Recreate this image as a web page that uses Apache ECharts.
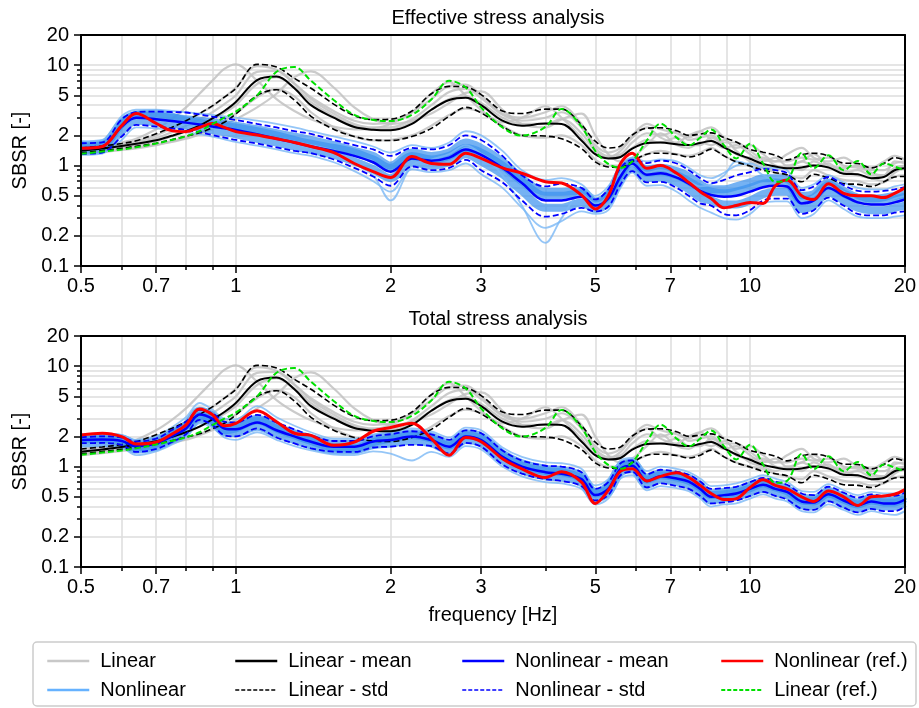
<!DOCTYPE html>
<html>
<head>
<meta charset="UTF-8">
<script src="https://cdn.jsdelivr.net/npm/echarts@6/dist/echarts.min.js"></script>
<style>
  * { margin: 0; padding: 0; }
  #main { width: 919px; height: 708px; background: #fff; }
</style>
</head>
<body>
<div id="main"></div>
<script>
// frequency grid [Hz]
var freq = [0.5,0.55,0.6,0.64,0.7,0.75,0.8,0.85,0.9,0.95,
  1.0,1.1,1.2,1.3,1.4,1.55,1.7,1.85,
  2.0,2.2,2.4,2.6,2.8,
  3.0,3.3,3.6,4.0,4.3,4.7,
  5.0,5.3,5.6,5.9,6.3,6.7,
  7.2,7.6,8.0,8.4,8.9,9.4,
  10,10.6,11.2,11.8,
  12.6,13.3,14.2,15.2,16.2,17.2,18.2,19.1,20];

// linear analyses (same in both panels)
var linMean = [1.41,1.48,1.57,1.65,1.79,1.98,2.2,2.5,2.95,3.5,
  4.3,7.1,7.7,5.9,4.0,3.0,2.42,2.28,
  2.25,2.6,3.6,4.5,4.75,
  4.0,2.8,2.5,2.62,2.6,1.78,
  1.3,1.18,1.22,1.48,1.68,1.7,
  1.63,1.6,1.68,1.76,1.52,1.32,
  1.17,1.04,0.98,0.94,
  0.96,1.0,0.96,0.83,0.82,0.75,0.77,0.9,0.94];
var linUp = [1.5,1.57,1.66,1.77,2.08,2.4,2.8,3.3,3.93,4.8,
  5.85,10.2,9.6,7.4,5.9,4.1,3.15,2.87,
  2.9,3.5,5.2,6.15,6.05,
  5.1,3.5,3.3,3.65,3.65,2.55,
  1.75,1.5,1.57,2.02,2.36,2.38,
  2.22,2.0,2.06,2.12,1.9,1.72,
  1.45,1.36,1.27,1.14,
  1.28,1.33,1.25,1.06,1.05,0.95,1.05,1.2,1.13];
var linLo = [1.34,1.41,1.49,1.56,1.67,1.81,1.97,2.12,2.38,2.7,
  3.27,5.0,5.7,4.5,3.1,2.3,1.95,1.8,
  1.78,1.95,2.35,3.1,3.8,
  3.35,2.45,2.0,1.97,1.85,1.48,
  1.09,0.97,0.96,1.1,1.3,1.33,
  1.29,1.22,1.3,1.46,1.25,1.09,
  0.99,0.9,0.85,0.81,
  0.69,0.82,0.75,0.66,0.65,0.62,0.69,0.77,0.78];
var linRef = [1.31,1.38,1.45,1.52,1.66,1.8,1.96,2.2,2.59,3.0,
  3.45,5.0,8.6,9.6,7.0,4.5,3.2,2.85,
  2.78,3.2,4.55,7.0,6.0,
  3.8,2.4,1.99,2.43,3.67,2.45,
  1.4,1.04,0.95,1.1,1.78,2.62,
  1.9,1.59,1.9,2.29,1.59,1.18,
  1.65,1.05,0.69,0.72,
  1.34,0.94,1.27,0.9,1.11,0.82,1.05,0.98,0.89];
var linRuns = [
  [1.45,1.55,1.7,1.85,2.3,2.9,3.8,5.2,7.0,9.2,
   10.2,7.0,4.6,3.5,2.9,2.45,2.3,2.35,
   2.6,3.4,5.2,6.8,5.0,
   3.6,2.7,3.0,3.9,3.0,1.9,
   1.3,1.2,1.4,1.9,2.4,1.9,
   1.7,2.0,2.2,1.8,1.5,1.6,
   1.3,1.1,1.2,1.0,
   1.1,1.3,1.0,0.95,1.0,0.85,0.8,1.1,1.05],
  [1.5,1.57,1.65,1.75,2.0,2.35,2.8,3.3,3.9,4.8,
   6.0,9.8,9.0,6.5,4.8,3.5,2.8,2.6,
   2.7,3.4,4.6,6.2,6.4,
   5.0,3.3,3.0,3.4,3.9,2.6,
   1.6,1.35,1.5,2.0,2.6,2.3,
   2.1,1.9,2.2,2.4,1.9,1.5,
   1.6,1.3,1.1,1.3,
   1.5,1.2,1.1,1.2,1.0,0.95,1.1,1.25,1.15],
  [1.38,1.45,1.52,1.6,1.75,1.95,2.2,2.5,2.9,3.35,
   4.0,6.5,7.6,6.0,4.3,3.1,2.5,2.3,
   2.3,2.7,3.6,4.6,4.9,
   4.2,3.0,2.6,2.6,2.9,2.1,
   1.4,1.2,1.25,1.5,1.8,1.7,
   1.9,1.6,1.6,1.9,1.6,1.3,
   1.2,1.2,1.0,0.95,
   1.1,1.0,1.05,0.85,0.9,0.8,0.8,0.95,1.0],
  [1.3,1.36,1.43,1.48,1.6,1.72,1.85,2.05,2.3,2.6,
   2.9,3.8,5.2,7.6,8.7,6.0,3.8,2.9,
   2.6,2.8,3.3,4.2,5.3,
   5.5,3.6,2.6,2.4,2.9,3.3,
   2.0,1.3,1.1,1.2,1.6,2.1,
   1.6,1.5,1.7,1.6,1.8,1.4,
   1.1,1.0,0.9,1.0,
   0.9,1.1,0.95,0.9,0.8,0.75,0.7,0.85,0.95],
  [1.35,1.4,1.47,1.52,1.62,1.75,1.9,2.1,2.4,2.8,
   3.3,4.8,5.8,4.9,3.4,2.4,1.95,1.78,
   1.8,2.0,2.5,3.2,3.7,
   3.4,2.5,2.0,1.9,2.0,1.6,
   1.15,1.0,1.0,1.1,1.3,1.4,
   1.3,1.25,1.35,1.5,1.25,1.1,
   1.0,0.95,0.85,0.8,
   0.75,0.9,0.8,0.72,0.7,0.65,0.68,0.78,0.8],
  [1.42,1.5,1.6,1.68,1.88,2.15,2.5,2.9,3.4,4.1,
   5.0,8.6,8.8,6.6,4.6,3.3,2.6,2.4,
   2.4,2.9,4.0,5.4,5.8,
   4.7,3.2,2.8,3.0,3.4,2.4,
   1.5,1.25,1.3,1.7,2.1,2.0,
   2.2,1.8,1.9,2.0,1.7,1.7,
   1.4,1.15,1.1,1.1,
   1.2,1.15,1.2,1.0,0.95,0.9,0.9,1.05,1.1]
];

// nonlinear, effective stress analysis
var effMean = [1.49,1.55,2.45,3.0,2.9,2.78,2.68,2.57,2.45,2.36,
  2.27,2.05,1.85,1.7,1.55,1.4,1.25,1.08,
  0.87,1.18,1.12,1.2,1.45,
  1.28,0.95,0.67,0.45,0.45,0.49,
  0.4,0.47,0.78,1.05,0.81,0.84,
  0.76,0.66,0.56,0.51,0.49,0.5,
  0.55,0.61,0.63,0.62,
  0.42,0.45,0.6,0.5,0.43,0.41,0.41,0.43,0.46];
var effUp = [1.67,1.7,2.9,3.4,3.45,3.42,3.38,3.23,3.08,2.96,
  2.85,2.6,2.4,2.2,2.07,1.8,1.6,1.45,
  1.25,1.5,1.45,1.6,2.0,
  1.8,1.25,0.8,0.62,0.66,0.6,
  0.46,0.58,0.95,1.14,1.06,1.12,
  1.05,0.9,0.75,0.67,0.72,0.8,
  0.86,0.93,0.9,0.84,
  0.57,0.62,0.77,0.64,0.56,0.55,0.56,0.58,0.61];
var effLo = [1.31,1.35,1.95,2.54,2.45,2.35,2.27,2.15,2.02,1.9,
  1.8,1.66,1.52,1.4,1.33,1.15,0.95,0.78,
  0.63,0.98,0.9,0.95,1.14,
  0.9,0.68,0.45,0.31,0.33,0.38,
  0.35,0.39,0.65,0.88,0.68,0.69,
  0.6,0.5,0.42,0.4,0.33,0.32,
  0.36,0.45,0.47,0.47,
  0.33,0.36,0.48,0.4,0.33,0.32,0.32,0.34,0.35];
var effRef = [1.49,1.55,2.5,3.3,2.64,2.23,2.18,2.4,2.62,2.4,
  2.18,2.02,1.85,1.7,1.55,1.35,1.05,0.87,
  0.76,1.23,1.05,1.03,1.33,
  1.18,0.95,0.84,0.69,0.67,0.51,
  0.37,0.5,1.05,1.33,0.94,1.0,
  0.84,0.68,0.55,0.47,0.38,0.4,
  0.43,0.42,0.63,0.72,
  0.5,0.46,0.66,0.53,0.5,0.5,0.48,0.53,0.6];
// first three runs sit inside the std band, the rest are the outer ones
var effRuns = [
  [1.6,1.65,2.7,3.2,3.1,3.0,2.9,2.8,2.7,2.6,
   2.5,2.3,2.1,1.95,1.8,1.6,1.4,1.25,
   1.0,1.35,1.25,1.35,1.7,
   1.5,1.1,0.75,0.55,0.55,0.56,
   0.44,0.52,0.88,1.1,0.92,0.95,
   0.88,0.78,0.65,0.58,0.58,0.62,
   0.68,0.75,0.75,0.72,
   0.5,0.52,0.68,0.56,0.48,0.47,0.48,0.5,0.52],
  [1.4,1.45,2.2,2.8,2.7,2.6,2.5,2.38,2.25,2.15,
   2.05,1.85,1.7,1.55,1.43,1.28,1.1,0.92,
   0.75,1.08,1.0,1.08,1.3,
   1.1,0.82,0.56,0.38,0.38,0.43,
   0.37,0.43,0.72,0.96,0.75,0.76,
   0.68,0.58,0.48,0.45,0.41,0.41,
   0.45,0.52,0.55,0.55,
   0.37,0.4,0.54,0.45,0.38,0.36,0.36,0.38,0.4],
  [1.55,1.6,2.6,3.2,3.3,3.1,2.8,2.68,2.55,2.48,
   2.4,2.2,2.0,1.8,1.65,1.5,1.35,1.15,
   0.95,1.25,1.15,1.25,1.5,
   1.35,1.0,0.7,0.5,0.5,0.53,
   0.42,0.5,0.82,1.08,0.85,0.88,
   0.8,0.7,0.6,0.55,0.53,0.55,
   0.6,0.66,0.68,0.66,
   0.45,0.48,0.64,0.53,0.46,0.44,0.44,0.46,0.49],
  [1.75,1.8,3.1,3.6,3.6,3.5,3.4,3.3,3.2,3.1,
   3.0,2.8,2.6,2.4,2.2,1.95,1.75,1.55,
   1.35,1.6,1.5,1.7,2.2,
   2.0,1.4,0.9,0.72,0.75,0.65,
   0.5,0.62,1.0,1.2,1.1,1.15,
   1.1,0.95,0.8,0.75,0.85,1.0,
   1.05,0.95,0.95,0.9,
   0.6,0.65,0.8,0.68,0.6,0.58,0.58,0.62,0.65],
  [1.28,1.32,1.8,2.4,2.35,2.25,2.15,2.05,1.95,1.83,
   1.72,1.58,1.45,1.33,1.25,1.08,0.88,0.7,
   0.55,0.92,0.86,0.9,1.05,
   0.82,0.6,0.38,0.24,0.28,0.35,
   0.33,0.36,0.6,0.85,0.63,0.64,
   0.55,0.45,0.38,0.34,0.3,0.29,
   0.33,0.42,0.44,0.44,
   0.3,0.33,0.45,0.37,0.31,0.3,0.3,0.31,0.32],
  [1.5,1.55,2.4,2.9,2.85,2.7,2.6,2.48,2.35,2.28,
   2.2,2.0,1.8,1.65,1.5,1.3,1.05,0.8,
   0.45,1.0,1.15,1.3,1.6,
   1.3,0.8,0.4,0.17,0.3,0.52,
   0.42,0.5,0.85,1.0,0.85,0.9,
   0.8,0.7,0.62,0.65,0.8,1.1,
   1.0,0.8,0.7,0.65,
   0.45,0.5,0.62,0.55,0.45,0.42,0.43,0.47,0.5]
];

// nonlinear, total stress analysis
var totMean = [1.84,1.86,1.8,1.6,1.7,2.0,2.4,3.3,3.0,2.4,
  2.35,2.75,2.3,2.0,1.77,1.58,1.58,1.78,
  1.84,1.99,1.84,1.58,2.0,
  1.84,1.25,1.0,0.88,0.85,0.75,
  0.52,0.6,0.95,1.02,0.72,0.8,
  0.76,0.71,0.6,0.5,0.52,0.54,
  0.6,0.66,0.6,0.56,
  0.45,0.44,0.53,0.46,0.41,0.45,0.43,0.43,0.47];
var totUp = [1.96,2.0,1.95,1.78,1.9,2.3,2.8,3.67,3.4,2.8,
  2.75,3.27,2.75,2.35,2.05,1.8,1.8,2.0,
  2.1,2.25,2.1,1.85,2.3,
  2.15,1.45,1.15,1.02,1.0,0.88,
  0.6,0.7,1.08,1.15,0.84,0.93,
  0.89,0.83,0.71,0.6,0.61,0.63,
  0.7,0.77,0.71,0.66,
  0.54,0.52,0.63,0.55,0.49,0.53,0.51,0.51,0.55];
var totLo = [1.71,1.72,1.65,1.4,1.5,1.75,2.1,2.92,2.6,2.05,
  2.0,2.4,1.95,1.7,1.52,1.41,1.4,1.55,
  1.58,1.65,1.6,1.35,1.72,
  1.58,1.05,0.85,0.75,0.72,0.64,
  0.46,0.52,0.82,0.89,0.62,0.68,
  0.64,0.6,0.51,0.43,0.44,0.46,
  0.51,0.56,0.51,0.47,
  0.38,0.37,0.45,0.39,0.35,0.38,0.36,0.36,0.4];
var totRef = [2.07,2.15,1.99,1.68,1.75,2.1,2.6,3.75,3.3,2.55,
  2.7,3.6,2.8,2.15,2.05,1.63,1.75,2.25,
  2.45,2.7,1.9,1.3,1.95,
  1.77,1.2,0.95,0.78,0.89,0.7,
  0.43,0.58,0.9,0.95,0.72,0.8,
  0.87,0.78,0.65,0.54,0.47,0.48,
  0.62,0.74,0.65,0.6,
  0.5,0.45,0.57,0.5,0.41,0.5,0.51,0.53,0.59];
var totRuns = [
  [1.95,1.98,1.92,1.7,1.82,2.15,2.6,3.6,3.25,2.6,
   2.55,3.0,2.5,2.15,1.92,1.7,1.7,1.92,
   2.0,2.15,2.0,1.7,2.15,
   2.0,1.35,1.08,0.95,0.92,0.81,
   0.56,0.65,1.02,1.1,0.78,0.86,
   0.82,0.77,0.65,0.54,0.56,0.58,
   0.65,0.71,0.65,0.6,
   0.49,0.48,0.57,0.5,0.44,0.49,0.46,0.46,0.51],
  [1.7,1.72,1.66,1.47,1.56,1.84,2.2,3.0,2.75,2.2,
   2.15,2.5,2.1,1.84,1.63,1.45,1.45,1.64,
   1.7,1.8,1.7,1.45,1.84,
   1.7,1.15,0.92,0.8,0.78,0.69,
   0.48,0.55,0.87,0.94,0.66,0.74,
   0.7,0.65,0.55,0.46,0.48,0.5,
   0.55,0.6,0.55,0.52,
   0.41,0.4,0.49,0.42,0.38,0.41,0.4,0.4,0.43],
  [1.88,1.9,1.78,1.55,1.68,2.05,2.55,3.2,2.9,2.3,
   2.4,2.9,2.4,2.05,1.8,1.55,1.52,1.75,
   1.9,2.05,1.9,1.62,2.05,
   1.9,1.3,1.02,0.9,0.88,0.76,
   0.54,0.62,0.97,1.06,0.74,0.82,
   0.78,0.72,0.62,0.52,0.53,0.55,
   0.61,0.68,0.62,0.57,
   0.46,0.45,0.54,0.47,0.42,0.46,0.44,0.44,0.48],
  [2.05,2.1,2.05,1.85,2.0,2.45,3.1,4.3,3.7,3.0,
   2.95,4.0,3.1,2.55,2.2,1.9,1.9,2.1,
   2.2,2.4,2.25,1.95,2.45,
   2.3,1.55,1.25,1.1,1.08,0.95,
   0.65,0.75,1.15,1.22,0.9,1.0,
   0.95,0.88,0.76,0.64,0.65,0.68,
   0.75,0.82,0.76,0.7,
   0.57,0.56,0.67,0.58,0.52,0.56,0.54,0.54,0.58],
  [1.6,1.62,1.55,1.3,1.42,1.65,1.95,2.7,2.45,1.95,
   1.85,2.2,1.85,1.6,1.45,1.32,1.3,1.42,
   1.35,1.15,1.4,1.25,1.6,
   1.48,1.0,0.8,0.7,0.68,0.6,
   0.42,0.48,0.76,0.82,0.58,0.64,
   0.61,0.57,0.48,0.4,0.42,0.43,
   0.48,0.53,0.48,0.45,
   0.36,0.35,0.42,0.37,0.33,0.36,0.34,0.33,0.36]
];

// axis ticks
var xMajor = [0.5, 0.7, 1, 2, 3, 5, 7, 10, 20];
var xMinor = [0.6, 0.8, 0.9, 4, 6, 8, 9];
var yMajor = [0.1, 0.2, 0.5, 1, 2, 5, 10, 20];
var yMinor = [0.3, 0.4, 0.6, 0.7, 0.8, 0.9, 3, 4, 6, 7, 8, 9];

var FONT = '"Liberation Sans", Arial, sans-serif';
var GRIDLINE = '#dcdcdc';

function fmt(v) { return String(+Number(v).toPrecision(3)); }

function pairs(vals, tag) {
    if (vals.length !== freq.length) throw new Error(tag + ' has ' + vals.length + ' points');
    return freq.map(function (f, i) { return [f, vals[i]]; });
}

function xAxesFor(g) {
    var base = {type: 'log', logBase: 10, min: 0.5, max: 20, gridIndex: g, position: 'bottom',
        axisLine: {show: false}, axisTick: {show: false}, axisLabel: {show: false}, splitLine: {show: false}};
    var frame = {show: true, lineStyle: {color: '#000', width: 2}};
    return [
        Object.assign({}, base, {
            axisTick: {show: true, customValues: xMajor, length: 7, lineStyle: {color: '#000', width: 1.5}},
            axisLabel: {show: true, customValues: xMajor, margin: 10, fontSize: 20, color: '#000', fontFamily: FONT, formatter: fmt},
            splitLine: {show: true, lineStyle: {color: GRIDLINE, width: 1.5}},
            name: g === 1 ? 'frequency [Hz]' : '', nameLocation: 'middle', nameGap: 38,
            nameTextStyle: {fontSize: 20, color: '#000', fontFamily: FONT}
        }),
        Object.assign({}, base, {
            axisTick: {show: true, customValues: xMinor, length: 4, lineStyle: {color: '#000', width: 1.5}},
            splitLine: {show: true, lineStyle: {color: GRIDLINE, width: 1.5}}
        }),
        Object.assign({}, base, {axisLine: frame, z: 5}),
        Object.assign({}, base, {position: 'top', axisLine: frame, z: 5})
    ];
}

function yAxesFor(g) {
    var base = {type: 'log', logBase: 10, min: 0.1, max: 20, gridIndex: g, position: 'left',
        axisLine: {show: false}, axisTick: {show: false}, axisLabel: {show: false}, splitLine: {show: false}};
    var frame = {show: true, lineStyle: {color: '#000', width: 2}};
    return [
        Object.assign({}, base, {
            axisTick: {show: true, customValues: yMajor, length: 7, lineStyle: {color: '#000', width: 1.5}},
            axisLabel: {show: true, customValues: yMajor, margin: 12, fontSize: 20, color: '#000', fontFamily: FONT, formatter: fmt},
            splitLine: {show: true, lineStyle: {color: GRIDLINE, width: 1.5}},
            name: 'SBSR [-]', nameLocation: 'middle', nameGap: 46, nameRotate: 90,
            nameTextStyle: {fontSize: 20, color: '#000', fontFamily: FONT}
        }),
        Object.assign({}, base, {
            axisTick: {show: true, customValues: yMinor, length: 4, lineStyle: {color: '#000', width: 1.5}},
            splitLine: {show: true, lineStyle: {color: GRIDLINE, width: 1.5}}
        }),
        Object.assign({}, base, {axisLine: frame, z: 5}),
        Object.assign({}, base, {position: 'right', axisLine: frame, z: 5})
    ];
}

function line(name, vals, g, color, width, dashed, z, opacity, tag) {
    return {
        name: name, type: 'line', xAxisIndex: g * 4, yAxisIndex: g * 4,
        data: pairs(vals, tag), symbol: 'none', smooth: 0.35, silent: true, z: z,
        animation: false,
        lineStyle: {color: color, width: width, type: dashed ? [6, 3] : 'solid', opacity: opacity == null ? 1 : opacity},
        itemStyle: {color: color}
    };
}

var series = [];
var panels = [
    {runs: effRuns, mean: effMean, up: effUp, lo: effLo, ref: effRef},
    {runs: totRuns, mean: totMean, up: totUp, lo: totLo, ref: totRef}
];
panels.forEach(function (p, g) {
    linRuns.forEach(function (r, i) { series.push(line('Linear', r, g, '#c2c2c2', 2.2, false, 1, 0.85, 'lin' + i)); });
    p.runs.forEach(function (r, i) {
        if (i < 3) series.push(line('Nonlinear', r, g, '#3a92ee', 8, false, 1, 0.7, 'nl' + g + i));
        else series.push(line('Nonlinear', r, g, '#7ab8f5', 1.8, false, 1, 0.8, 'nl' + g + i));
    });
    series.push(line('Linear - mean', linMean, g, '#000', 2, false, 3, 1, 'linMean'));
    series.push(line('Linear - std', linUp, g, '#000', 1.6, true, 3, 1, 'linUp'));
    series.push(line('Linear - std', linLo, g, '#000', 1.6, true, 3, 1, 'linLo'));
    series.push(line('Nonlinear - mean', p.mean, g, '#0000ff', 2.5, false, 3, 1, 'mean' + g));
    series.push(line('Nonlinear - std', p.up, g, '#0000ff', 1.8, true, 3, 1, 'up' + g));
    series.push(line('Nonlinear - std', p.lo, g, '#0000ff', 1.8, true, 3, 1, 'lo' + g));
    series.push(line('Nonlinear (ref.)', p.ref, g, '#ff0000', 3, false, 4, 1, 'ref' + g));
    series.push(line('Linear (ref.)', linRef, g, '#00e000', 2, true, 4, 1, 'linRef'));
});

var legendBase = {orient: 'vertical', top: 646, itemWidth: 42, itemHeight: 14, itemGap: 9,
    selectedMode: false, textStyle: {fontSize: 20, color: '#000', fontFamily: FONT, padding: [0, 0, 0, 6]}};
var legendLines = {
    'Linear': {color: '#c8c8c8', width: 2.5},
    'Nonlinear': {color: '#66b2ff', width: 2.5},
    'Linear - mean': {width: 2.5},
    'Linear - std': {width: 1.5, type: [4, 2]},
    'Nonlinear - mean': {width: 2.5},
    'Nonlinear - std': {width: 1.5, type: [4, 2]},
    'Nonlinear (ref.)': {width: 2.5},
    'Linear (ref.)': {width: 1.8, type: [4, 2]}
};
function legendAt(left, names) {
    return Object.assign({}, legendBase, {left: left, data: names.map(function (n) {
        return {name: n, itemStyle: {opacity: 0}, lineStyle: Object.assign({opacity: 1}, legendLines[n])};
    })});
}

var myChart = echarts.init(document.getElementById('main'), null, {renderer: 'canvas'});
var option = {
    animation: false,
    backgroundColor: '#fff',
    title: [
        {text: 'Effective stress analysis', left: 493, top: 3, textAlign: 'center',
            textStyle: {fontSize: 20, fontWeight: 'normal', color: '#000', fontFamily: FONT}},
        {text: 'Total stress analysis', left: 493, top: 304, textAlign: 'center',
            textStyle: {fontSize: 20, fontWeight: 'normal', color: '#000', fontFamily: FONT}}
    ],
    grid: [
        {left: 81, top: 35, width: 824, height: 231},
        {left: 81, top: 336, width: 824, height: 231}
    ],
    xAxis: xAxesFor(0).concat(xAxesFor(1)),
    yAxis: yAxesFor(0).concat(yAxesFor(1)),
    legend: [
        legendAt(41, ['Linear', 'Nonlinear']),
        legendAt(229, ['Linear - mean', 'Linear - std']),
        legendAt(456, ['Nonlinear - mean', 'Nonlinear - std']),
        legendAt(715, ['Nonlinear (ref.)', 'Linear (ref.)'])
    ],
    graphic: [
        {type: 'rect', shape: {x: 33, y: 642, width: 883, height: 64, r: 4},
            style: {fill: '#fff', stroke: '#cccccc', lineWidth: 1.5}, z: -1}
    ],
    series: series
};
myChart.setOption(option);
</script>
</body>
</html>
